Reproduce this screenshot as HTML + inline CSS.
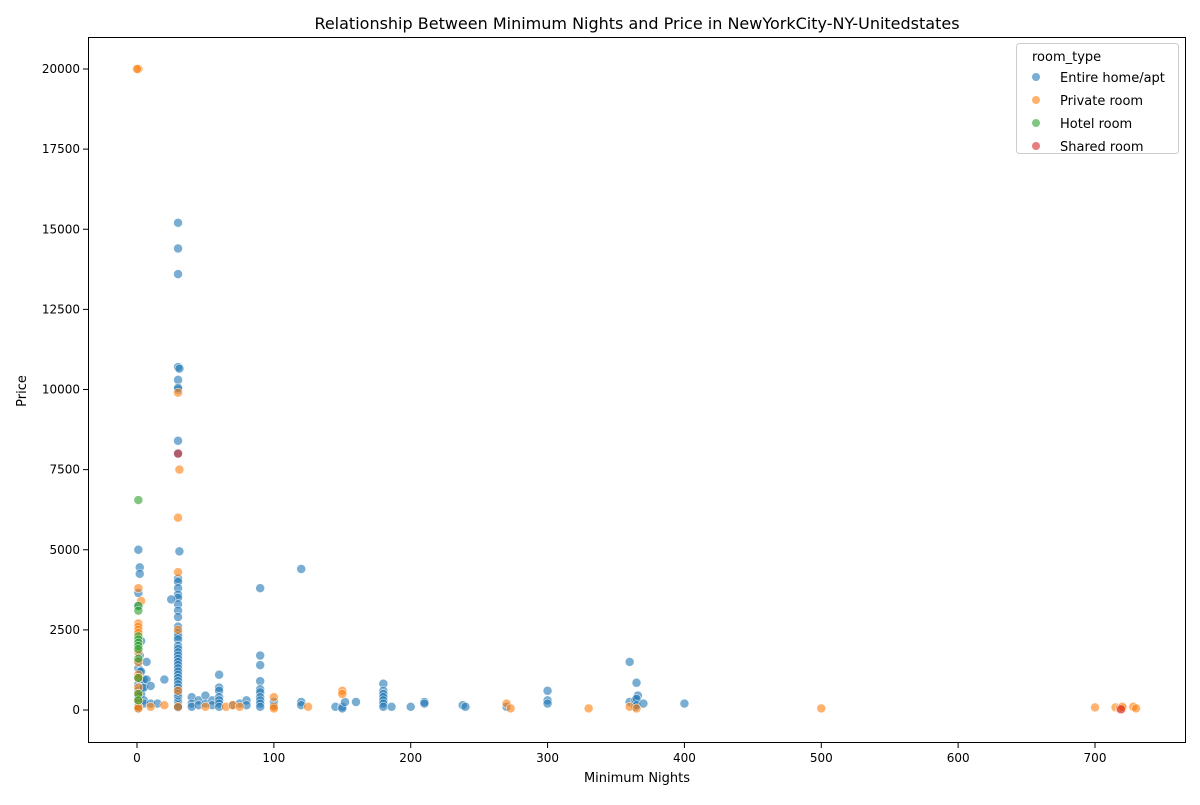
<!DOCTYPE html>
<html><head><meta charset="utf-8"><style>
body{margin:0;background:#fff;font-family:"Liberation Sans","DejaVu Sans",sans-serif}
svg text{font-family:"DejaVu Sans","Liberation Sans",sans-serif;fill:#000}
</style></head><body>
<svg id="chart" width="1200" height="800" xmlns="http://www.w3.org/2000/svg">
<text x="637" y="29" font-size="16" text-anchor="middle">Relationship Between Minimum Nights and Price in NewYorkCity-NY-Unitedstates</text>
<text x="637" y="782" font-size="13" text-anchor="middle">Minimum Nights</text>
<text x="26" y="391" font-size="13" text-anchor="middle" transform="rotate(-90 26 391)">Price</text>
<g id="ticks"></g>
<g id="points"></g>
<rect x="88.5" y="37.5" width="1097" height="705" fill="none" stroke="#000" stroke-width="1"/>
<g id="legend"></g>
</svg>
<script>
const xTicks=[0,100,200,300,400,500,600,700];
const yTicks=[0,2500,5000,7500,10000,12500,15000,17500,20000];
const seriesNames=["Entire home/apt","Private room","Hotel room","Shared room"];
const seriesColors=["#1f77b4","#ff7f0e","#2ca02c","#d62728"];
const entireHome=[[30,15200],[30,14400],[30,13600],[30,10700],[31,10650],[30,10300],[30,10000],[30,10050],[30,8400],[30,8000],[31,4950],[30,4100],[30,4000],[30,3800],[30,3600],[30,3500],[30,3300],[30,3100],[30,2900],[30,2600],[30,2400],[30,2300],[30,2200],[30,2000],[30,1900],[30,1800],[30,1700],[30,1600],[30,1500],[30,1400],[30,1300],[30,1200],[30,1100],[30,1000],[30,900],[30,800],[30,700],[30,600],[30,500],[30,400],[30,300],[30,250],[30,200],[30,150],[30,100],[30,80],[1,5000],[2,4450],[2,4250],[1,3650],[1,3250],[3,2150],[2,1700],[1,1500],[1,1300],[2,1200],[1,1000],[1,800],[1,600],[1,400],[1,300],[1,200],[1,150],[1,100],[1,50],[3,1200],[3,900],[4,700],[3,500],[5,950],[5,700],[5,300],[5,200],[7,1500],[7,950],[10,750],[10,200],[20,950],[25,3450],[15,200],[40,400],[40,200],[40,100],[45,300],[45,150],[50,450],[50,200],[55,300],[55,150],[60,1100],[60,700],[60,600],[60,400],[60,300],[60,200],[60,100],[70,150],[75,200],[80,300],[80,150],[90,3800],[90,1700],[90,1400],[90,900],[90,650],[90,550],[90,400],[90,300],[90,200],[90,100],[100,250],[100,150],[120,4400],[120,250],[120,150],[145,100],[150,100],[150,50],[152,250],[160,250],[180,820],[180,600],[180,500],[180,400],[180,300],[180,200],[180,100],[186,100],[200,100],[210,250],[210,200],[238,150],[240,100],[270,100],[300,600],[300,300],[300,200],[360,1500],[360,250],[364,300],[364,200],[364,100],[365,850],[366,450],[365,350],[365,150],[370,200],[400,200]];
const privateRoom=[[1,20000],[0,20000],[1,3800],[1,2700],[1,2600],[1,2500],[1,2400],[1,1800],[1,1500],[1,1100],[1,1000],[1,700],[1,500],[1,300],[1,100],[1,50],[3,3400],[30,9900],[31,7500],[30,6000],[30,4300],[30,2500],[30,600],[30,100],[10,100],[20,150],[50,100],[65,100],[70,150],[75,100],[100,400],[100,100],[100,50],[125,100],[150,600],[150,500],[270,200],[273,50],[330,50],[360,100],[365,50],[500,50],[700,80],[715,80],[718,30],[718,60],[720,50],[720,100],[728,100],[730,50]];
const hotelRoom=[[1,6550],[1,3250],[1,3100],[1,2300],[1,2200],[1,2100],[1,2000],[1,1900],[1,1600],[1,1000],[1,500],[1,300]];
const sharedRoom=[[719,20],[30,8000]];
const L=88,R=1185,T=38,B=743;
const X=v=>137+v*(958/700);
const Y=v=>710-v*(641/20000);
const NS="http://www.w3.org/2000/svg";
const tg=document.getElementById('ticks');
function mk(tag,attrs,parent){const e=document.createElementNS(NS,tag);for(const k in attrs)e.setAttribute(k,attrs[k]);parent.appendChild(e);return e;}
xTicks.forEach(t=>{const x=X(t);
 const l=mk('line',{x1:x,x2:x,y1:B,y2:B+5,stroke:'#000'},tg);
 
 
 const tx=mk('text',{x:x,y:B+19,'font-size':12,'text-anchor':'middle'},tg);tx.textContent=t;
 
 });
yTicks.forEach(t=>{const y=Y(t);
 const l=mk('line',{x1:L-5,x2:L,y1:y,y2:y,stroke:'#000'},tg);
 
 
 const tx=mk('text',{x:L-8,y:y+4,'font-size':12,'text-anchor':'end'},tg);tx.textContent=t;
 
 });
const pg=document.getElementById('points');
[entireHome,privateRoom,hotelRoom,sharedRoom].forEach((s,i)=>{s.forEach(p=>{
 const c=mk('circle',{cx:X(p[0]),cy:Y(p[1]),r:4.5,fill:seriesColors[i],'fill-opacity':0.6,stroke:'#fff','stroke-width':0.6,'stroke-opacity':0.8},pg);
 
 });});
const lg=document.getElementById('legend');
mk('rect',{x:1016.5,y:43.5,width:162,height:110,rx:3,fill:'#fff','fill-opacity':0.8,stroke:'#ccc'},lg);
const lt=mk('text',{x:1032,y:61,'font-size':13},lg);lt.textContent='room_type';


seriesNames.forEach((n,i)=>{const y=81+i*23;
 const c=mk('circle',{cx:1036,cy:y-4,r:4,fill:seriesColors[i],'fill-opacity':0.6},lg);
 
 
 const t=mk('text',{x:1060,y:y+1,'font-size':13},lg);t.textContent=n;
 
 });
</script>
</body></html>
